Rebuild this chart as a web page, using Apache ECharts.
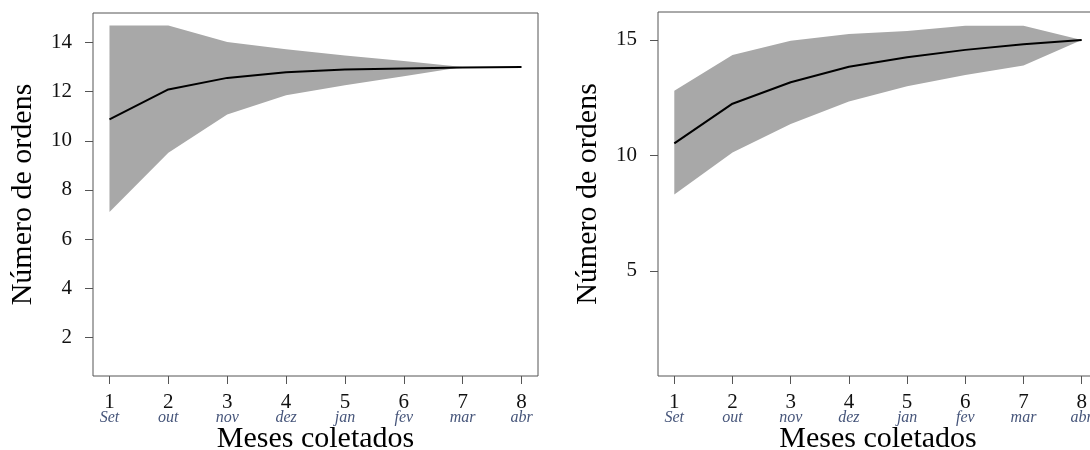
<!DOCTYPE html>
<html>
<head>
<meta charset="utf-8">
<script src="https://cdn.jsdelivr.net/npm/echarts@6/dist/echarts.min.js"></script>
<style>
  html, body { margin: 0; padding: 0; background: #fff; }
  #chart { width: 1090px; height: 450px; }
</style>
</head>
<body>
<div id="chart"></div>
<script>
// meses coletados (eixo x) e nomes dos meses
const meses = [1, 2, 3, 4, 5, 6, 7, 8];
const mesNomes = ['Set', 'out', 'nov', 'dez', 'jan', 'fev', 'mar', 'abr'];

// painel esquerdo
const mediaA    = [10.87, 12.09, 12.56, 12.79, 12.90, 12.94, 12.98, 13.0];
const superiorA = [14.69, 14.69, 14.02, 13.73, 13.47, 13.25, 13.0, 13.0];
const inferiorA = [7.10, 9.51, 11.07, 11.85, 12.26, 12.63, 13.0, 13.0];
const yTicksA   = [2, 4, 6, 8, 10, 12, 14];

// painel direito
const mediaB    = [10.52, 12.24, 13.17, 13.84, 14.25, 14.57, 14.81, 15.0];
const superiorB = [12.80, 14.35, 14.97, 15.26, 15.39, 15.61, 15.61, 15.0];
const inferiorB = [8.31, 10.13, 11.36, 12.33, 13.00, 13.48, 13.89, 15.0];
const yTicksB   = [5, 10, 15];

const FONT = '"Liberation Serif", "DejaVu Serif", serif';
const CINZA = '#555';

function faixa(idx, inf, sup) {
    return {
        type: 'custom',
        xAxisIndex: idx,
        yAxisIndex: idx,
        silent: true,
        data: meses.map((m, i) => [m, inf[i], sup[i]]),
        renderItem: function(params, api) {
            if (params.dataIndex !== 0) return null;
            const pts = [];
            meses.forEach((m, i) => pts.push(api.coord([m, sup[i]])));
            for (let i = meses.length - 1; i >= 0; i--) pts.push(api.coord([meses[i], inf[i]]));
            return {
                type: 'polygon',
                shape: { points: pts },
                style: { fill: '#a8a8a8', stroke: null }
            };
        },
        z: 1
    };
}

function linha(idx, media) {
    return {
        type: 'line',
        xAxisIndex: idx,
        yAxisIndex: idx,
        data: meses.map((m, i) => [m, media[i]]),
        symbol: 'none',
        lineStyle: { color: '#000', width: 2 },
        z: 3
    };
}

function eixoX(idx) {
    return {
        type: 'value',
        gridIndex: idx,
        min: 0.72,
        max: 8.28,
        name: 'Meses coletados',
        nameLocation: 'middle',
        nameGap: 48,
        nameMoveOverlap: false,
        nameTextStyle: { fontFamily: FONT, fontSize: 30, color: '#000' },
        axisLine: { show: false },
        splitLine: { show: false },
        axisTick: { show: true, length: 8, customValues: meses, lineStyle: { color: CINZA } },
        axisLabel: {
            customValues: meses,
            margin: 17,
            fontFamily: FONT,
            fontSize: 21,
            lineHeight: 18,
            color: '#111',
            formatter: function(v) {
                return v + '\n{m|' + mesNomes[Math.round(v) - 1] + '}';
            },
            rich: {
                m: { fontFamily: FONT, fontStyle: 'italic', fontSize: 16, lineHeight: 14, color: '#46557a' }
            }
        }
    };
}

function eixoY(idx, min, max, ticks) {
    return {
        type: 'value',
        gridIndex: idx,
        min: min,
        max: max,
        name: 'Número de ordens',
        nameLocation: 'middle',
        nameGap: 55,
        nameMoveOverlap: false,
        nameTextStyle: { fontFamily: FONT, fontSize: 30, color: '#000' },
        axisLine: { show: false },
        splitLine: { show: false },
        axisTick: { show: true, length: 8, customValues: ticks, lineStyle: { color: CINZA } },
        axisLabel: {
            customValues: ticks,
            margin: 21,
            fontFamily: FONT,
            fontSize: 21,
            color: '#111'
        }
    };
}

const chart = echarts.init(document.getElementById('chart'));

chart.setOption({
    animation: false,
    backgroundColor: '#fff',
    grid: [
        { left: 93, top: 13, width: 445, height: 363, outerBoundsMode: 'none', containLabel: false,
          show: true, borderColor: CINZA, borderWidth: 1, backgroundColor: 'transparent' },
        { left: 658, top: 12, width: 440, height: 364, outerBoundsMode: 'none', containLabel: false,
          show: true, borderColor: CINZA, borderWidth: 1, backgroundColor: 'transparent' }
    ],
    xAxis: [eixoX(0), eixoX(1)],
    yAxis: [
        eixoY(0, 0.43, 15.2, yTicksA),
        eixoY(1, 0.45, 16.21, yTicksB)
    ],
    series: [
        faixa(0, inferiorA, superiorA),
        linha(0, mediaA),
        faixa(1, inferiorB, superiorB),
        linha(1, mediaB)
    ]
});
</script>
</body>
</html>
